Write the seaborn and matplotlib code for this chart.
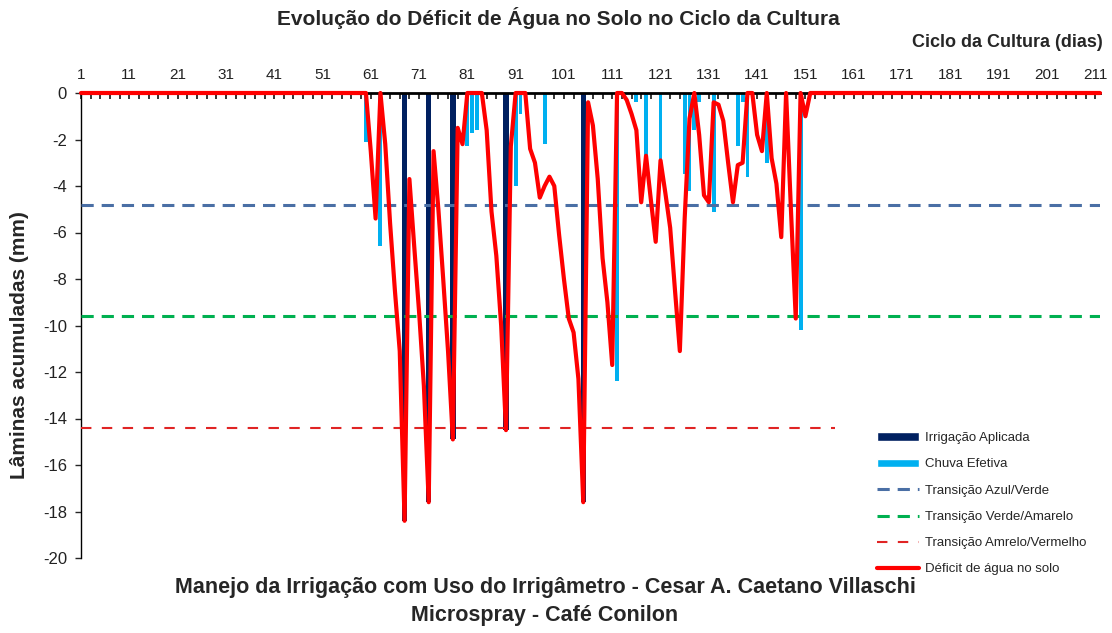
import numpy as np
import pandas as pd
import seaborn as sns
import matplotlib.pyplot as plt
from matplotlib.patches import Patch
from matplotlib.lines import Line2D

# dias do ciclo da cultura
n_days = 212
tick_days = list(range(1, 212, 10))

# deficit de agua no solo (mm), dia 58 em diante; zero fora deste trecho
deficit_first_day = 58
deficit_mm = [
    0, 0, 0, -2.5, -5.4, 0, -2.2, -5.6, -8.5, -11.1,           # 58-67
    -18.4, -3.7, -6.6, -9.4, -12.6, -17.6, -2.5, -5.0, -8.0, -11.1,  # 68-77
    -14.9, -1.5, -2.2, 0, 0, 0, 0, -1.6, -5.1, -7.0,             # 78-87
    -10.0, -14.5, -2.3, 0, 0, 0, -2.4, -3.0, -4.5, -4.0,         # 88-97
    -3.6, -4.0, -6.1, -8.0, -9.7, -10.3, -12.3, -17.6, -0.4, -1.4,  # 98-107
    -3.7, -7.1, -9.0, -11.7, 0, 0, -0.3, -0.9, -1.6, -4.7,       # 108-117
    -2.7, -4.6, -6.4, -2.9, -4.3, -5.8, -8.5, -11.1, -5.4, -1.1,  # 118-127
    0, -1.8, -4.4, -4.7, -0.4, -0.5, -1.2, -3.0, -4.7, -3.1,     # 128-137
    -3.0, 0, 0, -1.8, -2.5, 0, -2.8, -3.9, -6.2, 0,              # 138-147
    -5.0, -9.7, 0, -1.0, 0, 0,                                   # 148-153
]

# irrigacao aplicada (mm)
irrig_days = [68, 73, 78, 89, 105]
irrig_mm = [-18.4, -17.6, -14.9, -14.5, -17.6]

# chuva efetiva (mm)
rain_days = [60, 63, 81, 82, 83, 91, 92, 97, 112, 116, 118, 121,
             126, 127, 128, 129, 132, 137, 138, 139, 143, 150]
rain_mm = [-2.1, -6.6, -2.3, -1.7, -1.6, -4.0, -0.9, -2.2, -12.4, -0.4, -2.7, -2.9,
           -3.5, -4.2, -1.6, -0.4, -5.1, -2.3, -0.4, -3.6, -3.0, -10.2]

# transicoes
lim_azul_verde = -4.8
lim_verde_amarelo = -9.6
lim_amarelo_vermelho = -14.4

days = np.arange(1, n_days + 1)
df = pd.DataFrame({"dia": days, "deficit": 0.0, "irrig": 0.0, "chuva": 0.0})
df.loc[df.dia.isin(range(deficit_first_day, deficit_first_day + len(deficit_mm))), "deficit"] = deficit_mm
df = df.set_index("dia")
df.loc[irrig_days, "irrig"] = irrig_mm
df.loc[rain_days, "chuva"] = rain_mm
df = df.reset_index()

sns.set_style("white")
plt.rcParams["font.family"] = ["Liberation Sans", "DejaVu Sans"]
plt.rcParams["axes.unicode_minus"] = False

c_irrig = "#002060"
c_rain = "#00B0F0"
c_blue = "#4A6FA5"
c_green = "#00B050"
c_red_dash = "#E02424"
c_red = "#FF0000"

fig = plt.figure(figsize=(11.12, 6.33), dpi=100)
ax = fig.add_axes([81 / 1112, 1 - 558 / 633, (1100 - 81) / 1112, 465 / 633])

sns.barplot(data=df, x="dia", y="irrig", native_scale=True, color=c_irrig, saturation=1,
            width=1.1, errorbar=None, linewidth=0, ax=ax, zorder=2)
sns.barplot(data=df, x="dia", y="chuva", native_scale=True, color=c_rain, saturation=1,
            width=0.8, errorbar=None, linewidth=0, ax=ax, zorder=2)

ax.axhline(lim_azul_verde, color=c_blue, lw=2.2, dashes=(4, 2.6), zorder=3)
ax.axhline(lim_verde_amarelo, color=c_green, lw=2.2, dashes=(4, 2.6), zorder=3)
ax.axhline(lim_amarelo_vermelho, color=c_red_dash, lw=1.5, dashes=(5, 5), zorder=3)

sns.lineplot(data=df, x="dia", y="deficit", color=c_red, lw=3, ax=ax, zorder=6, clip_on=False)

ax.set_xlim(1, n_days)
ax.set_ylim(-20, 0)
ax.set_yticks(range(0, -21, -2))
ax.xaxis.tick_top()
ax.set_xticks(tick_days)
ax.set_xticks(days[::2], minor=True)
ax.tick_params(axis="x", which="both", direction="in", length=4, width=1.1, color="black",
               top=True, bottom=False, pad=8, labelsize=11, labelcolor="#222222")
ax.tick_params(axis="y", direction="out", length=4, width=1, left=True,
               labelsize=12, pad=6, labelcolor="#222222")

for s in ["right", "bottom"]:
    ax.spines[s].set_visible(False)
ax.spines["top"].set_linewidth(2)
ax.spines["left"].set_linewidth(1)
ax.spines["top"].set_color("black")
ax.spines["left"].set_color("black")

ax.set_xlabel("Ciclo da Cultura (dias)", fontsize=13, fontweight="bold", ha="right", va="center")
ax.xaxis.set_label_position("top")
ax.xaxis.set_label_coords(1.003, 1 + (93 - 47) / 465)
ax.set_ylabel("Lâminas acumuladas (mm)", fontsize=15, fontweight="bold", va="center")
ax.yaxis.set_label_coords(-61 / 1019, 1 - (345 - 93) / 465)

fig.text(558 / 1112, 1 - 18 / 633, "Evolução do Déficit de Água no Solo no Ciclo da Cultura",
         ha="center", va="center", fontsize=15, fontweight="bold")
fig.text(545 / 1112, 1 - 587 / 633,
         "Manejo da Irrigação com Uso do Irrigâmetro - Cesar A. Caetano Villaschi",
         ha="center", va="center", fontsize=15.5, fontweight="bold")
fig.text(545 / 1112, 1 - 615 / 633, "Microspray - Café Conilon",
         ha="center", va="center", fontsize=15.5, fontweight="bold")

handles = [
    Patch(facecolor=c_irrig, label="Irrigação Aplicada"),
    Patch(facecolor=c_rain, label="Chuva Efetiva"),
    Line2D([], [], color=c_blue, lw=2.2, dashes=(4, 2.6), label="Transição Azul/Verde"),
    Line2D([], [], color=c_green, lw=2.2, dashes=(4, 2.6), label="Transição Verde/Amarelo"),
    Line2D([], [], color=c_red_dash, lw=1.5, dashes=(5, 5), label="Transição Amrelo/Vermelho"),
    Line2D([], [], color=c_red, lw=3, label="Déficit de água no solo"),
]
leg = ax.legend(handles=handles, loc="upper left", bbox_to_anchor=(835 / 1112, 1 - 390 / 633),
                bbox_transform=fig.transFigure, borderaxespad=0, borderpad=3.2,
                fontsize=9.5, handlelength=3.2, handleheight=0.6, handletextpad=0.4,
                labelspacing=1.08, frameon=True, fancybox=False)
leg.get_frame().set_facecolor("white")
leg.get_frame().set_edgecolor("none")
leg.get_frame().set_alpha(1)
leg.set_zorder(10)

fig.savefig("out.png", dpi=100)
